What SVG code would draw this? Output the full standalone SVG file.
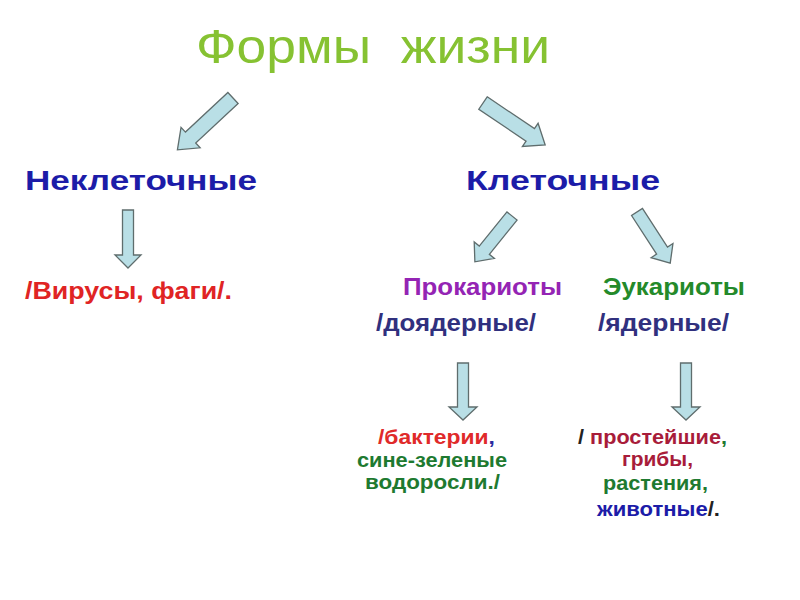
<svg xmlns="http://www.w3.org/2000/svg" width="800" height="600" viewBox="0 0 800 600">
<style>
text{font-family:"Liberation Sans",Arial,sans-serif;font-weight:bold}
.arr{fill:#b9dfe6;stroke:#5f6d6d;stroke-width:1.3;stroke-linejoin:miter}
.title{font-weight:normal;font-size:48px;fill:#86c232}
.h1{font-size:28px;fill:#1c1ca8}
.h2{font-size:23px}
.sm{font-size:21px}
</style>
<rect width="800" height="600" fill="#ffffff"/>
<g id="connectors">
<path class="arr" transform="translate(233,98) rotate(137)" d="M0,-7.5 L58,-7.5 L58,-14 L76,0 L58,14 L58,7.5 L0,7.5 Z"/>
<path class="arr" transform="translate(483,103) rotate(34)" d="M0,-7.5 L57,-7.5 L57,-14 L75,0 L57,14 L57,7.5 L0,7.5 Z"/>
<path class="arr" transform="translate(128,210) rotate(90)" d="M0,-5.5 L45,-5.5 L45,-13 L58,0 L45,13 L45,5.5 L0,5.5 Z"/>
<path class="arr" transform="translate(512,216) rotate(129)" d="M0,-6.5 L44,-6.5 L44,-13 L59,0 L44,13 L44,6.5 L0,6.5 Z"/>
<path class="arr" transform="translate(637,212) rotate(57)" d="M0,-6.5 L46,-6.5 L46,-13 L61,0 L46,13 L46,6.5 L0,6.5 Z"/>
<path class="arr" transform="translate(463,363) rotate(90)" d="M0,-5.5 L44,-5.5 L44,-14 L57,0 L44,14 L44,5.5 L0,5.5 Z"/>
<path class="arr" transform="translate(686,363) rotate(90)" d="M0,-5.5 L44,-5.5 L44,-14 L57,0 L44,14 L44,5.5 L0,5.5 Z"/>
</g>
<g id="title"><text class="title" x="196" y="63" textLength="354" lengthAdjust="spacingAndGlyphs" xml:space="preserve">Формы  жизни</text></g>
<g id="noncell"><text class="h1" x="25" y="190" textLength="232" lengthAdjust="spacingAndGlyphs">Неклеточные</text></g>
<g id="cell"><text class="h1" x="466" y="190" textLength="194" lengthAdjust="spacingAndGlyphs">Клеточные</text></g>
<g id="viruses"><text class="h2" x="25" y="299" fill="#e02424" textLength="207" lengthAdjust="spacingAndGlyphs">/Вирусы, фаги/.</text></g>
<g id="prokaryotes">
<text class="h2" x="403" y="295" fill="#9424b4" textLength="159" lengthAdjust="spacingAndGlyphs">Прокариоты</text>
<text class="h2" x="376" y="331" fill="#30307e" textLength="160" lengthAdjust="spacingAndGlyphs">/доядерные/</text>
</g>
<g id="eukaryotes">
<text class="h2" x="603" y="295" fill="#248a2a" textLength="142" lengthAdjust="spacingAndGlyphs">Эукариоты</text>
<text class="h2" x="598" y="331" fill="#30307e" textLength="131" lengthAdjust="spacingAndGlyphs">/ядерные/</text>
</g>
<g id="bacteria">
<text class="sm" x="378" y="444" textLength="117" lengthAdjust="spacingAndGlyphs"><tspan fill="#e02a2a">/бактерии</tspan><tspan fill="#2a2aa0">,</tspan></text>
<text class="sm" x="357" y="467" fill="#1e7a30" textLength="150" lengthAdjust="spacingAndGlyphs">сине-зеленые</text>
<text class="sm" x="365" y="489" fill="#1e7a30" textLength="135" lengthAdjust="spacingAndGlyphs">водоросли./</text>
</g>
<g id="eukaryote-kinds">
<text class="sm" x="578" y="444" textLength="149" lengthAdjust="spacingAndGlyphs" xml:space="preserve"><tspan fill="#222222">/ </tspan><tspan fill="#a81c3a">простейшие</tspan><tspan fill="#1e7a30">,</tspan></text>
<text class="sm" x="622" y="466" fill="#a81c3a" textLength="71" lengthAdjust="spacingAndGlyphs">грибы,</text>
<text class="sm" x="603" y="490" fill="#1e7a30" textLength="105" lengthAdjust="spacingAndGlyphs">растения,</text>
<text class="sm" x="597" y="516" textLength="123" lengthAdjust="spacingAndGlyphs"><tspan fill="#1c1ca8">животные</tspan><tspan fill="#222222">/.</tspan></text>
</g>
</svg>
